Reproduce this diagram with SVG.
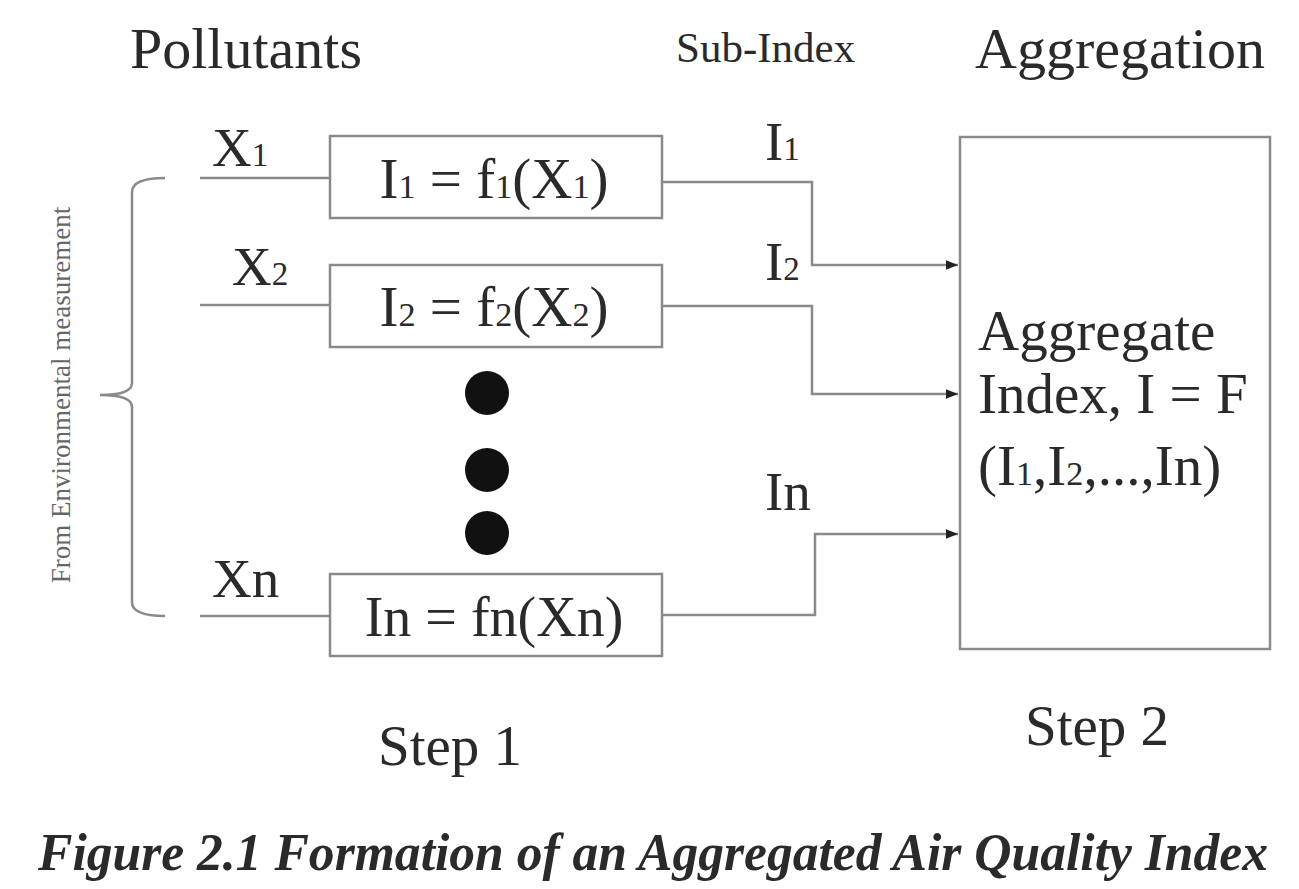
<svg xmlns="http://www.w3.org/2000/svg" width="1299" height="889" viewBox="0 0 1299 889">
<defs>
<style>
.t{font-family:"Liberation Serif","Times New Roman",serif;fill:#2a2a2a}
.box{fill:#fff;stroke:#8a8a8a;stroke-width:2.5}
.ln{fill:none;stroke:#8a8a8a;stroke-width:2.5}
.sub{font-size:0.6em}
</style>
<marker id="arr" viewBox="0 0 10 10" refX="10" refY="5" markerWidth="5" markerHeight="5" orient="auto" markerUnits="strokeWidth">
<path d="M0,1 L10,5 L0,9 z" fill="#222"/>
</marker>
</defs>
<rect width="1299" height="889" fill="#fff"/>

<g id="headers">
<text class="t" x="130" y="68" font-size="58">Pollutants</text>
<text class="t" x="676" y="62" font-size="43">Sub-Index</text>
<text class="t" x="975" y="68" font-size="58">Aggregation</text>
</g>

<g id="brace">
<path class="ln" d="M165,178 Q132,178 132,192 L132,383 Q132,395 100,395 Q132,395 132,407 L132,602 Q132,616 165,616"/>
<text class="t" font-size="27" style="fill:#666" transform="translate(70,395) rotate(-90)" text-anchor="middle">From Environmental measurement</text>
</g>

<g id="connectors">
<path class="ln" d="M200,178 H330"/>
<path class="ln" d="M200,305 H330"/>
<path class="ln" d="M200,616 H330"/>
<path class="ln" d="M662,182 H812 V265 H958" marker-end="url(#arr)"/>
<path class="ln" d="M662,306 H812 V394 H958" marker-end="url(#arr)"/>
<path class="ln" d="M662,615 H815 V534 H958" marker-end="url(#arr)"/>
</g>

<g id="labels">
<text class="t" x="212" y="166" font-size="55">X<tspan class="sub">1</tspan></text>
<text class="t" x="232" y="285" font-size="55">X<tspan class="sub">2</tspan></text>
<text class="t" x="212" y="597" font-size="55">X<tspan>n</tspan></text>
<text class="t" x="765" y="160" font-size="55">I<tspan class="sub">1</tspan></text>
<text class="t" x="765" y="280" font-size="55">I<tspan class="sub">2</tspan></text>
<text class="t" x="765" y="510" font-size="55">I<tspan>n</tspan></text>
</g>

<g id="node1">
<rect class="box" x="330" y="136" width="332" height="82"/>
<text class="t" x="494" y="198" font-size="57" text-anchor="middle">I<tspan class="sub">1</tspan> = f<tspan class="sub">1</tspan>(X<tspan class="sub">1</tspan>)</text>
</g>
<g id="node2">
<rect class="box" x="330" y="265" width="332" height="82"/>
<text class="t" x="494" y="326" font-size="57" text-anchor="middle">I<tspan class="sub">2</tspan> = f<tspan class="sub">2</tspan>(X<tspan class="sub">2</tspan>)</text>
</g>
<g id="dots">
<circle cx="487" cy="393" r="22" fill="#111"/>
<circle cx="487" cy="470" r="22" fill="#111"/>
<circle cx="487" cy="533" r="22" fill="#111"/>
</g>
<g id="noden">
<rect class="box" x="330" y="574" width="332" height="82"/>
<text class="t" x="494" y="636" font-size="56" text-anchor="middle">I<tspan>n</tspan> = f<tspan>n</tspan>(X<tspan>n</tspan>)</text>
</g>

<g id="aggregate">
<rect class="box" x="960" y="137" width="310" height="512"/>
<text class="t" x="978" y="350" font-size="57">Aggregate</text>
<text class="t" x="978" y="413" font-size="57">Index, I = F</text>
<text class="t" x="978" y="485" font-size="57">(I<tspan class="sub">1</tspan>,I<tspan class="sub">2</tspan>,...,I<tspan>n</tspan>)</text>
</g>

<g id="steps">
<text class="t" x="378" y="765" font-size="57">Step 1</text>
<text class="t" x="1025" y="745" font-size="57">Step 2</text>
</g>

<text class="t" x="38" y="870" font-size="52" font-weight="bold" font-style="italic" textLength="1230" lengthAdjust="spacingAndGlyphs">Figure 2.1 Formation of an Aggregated Air Quality Index</text>
</svg>
